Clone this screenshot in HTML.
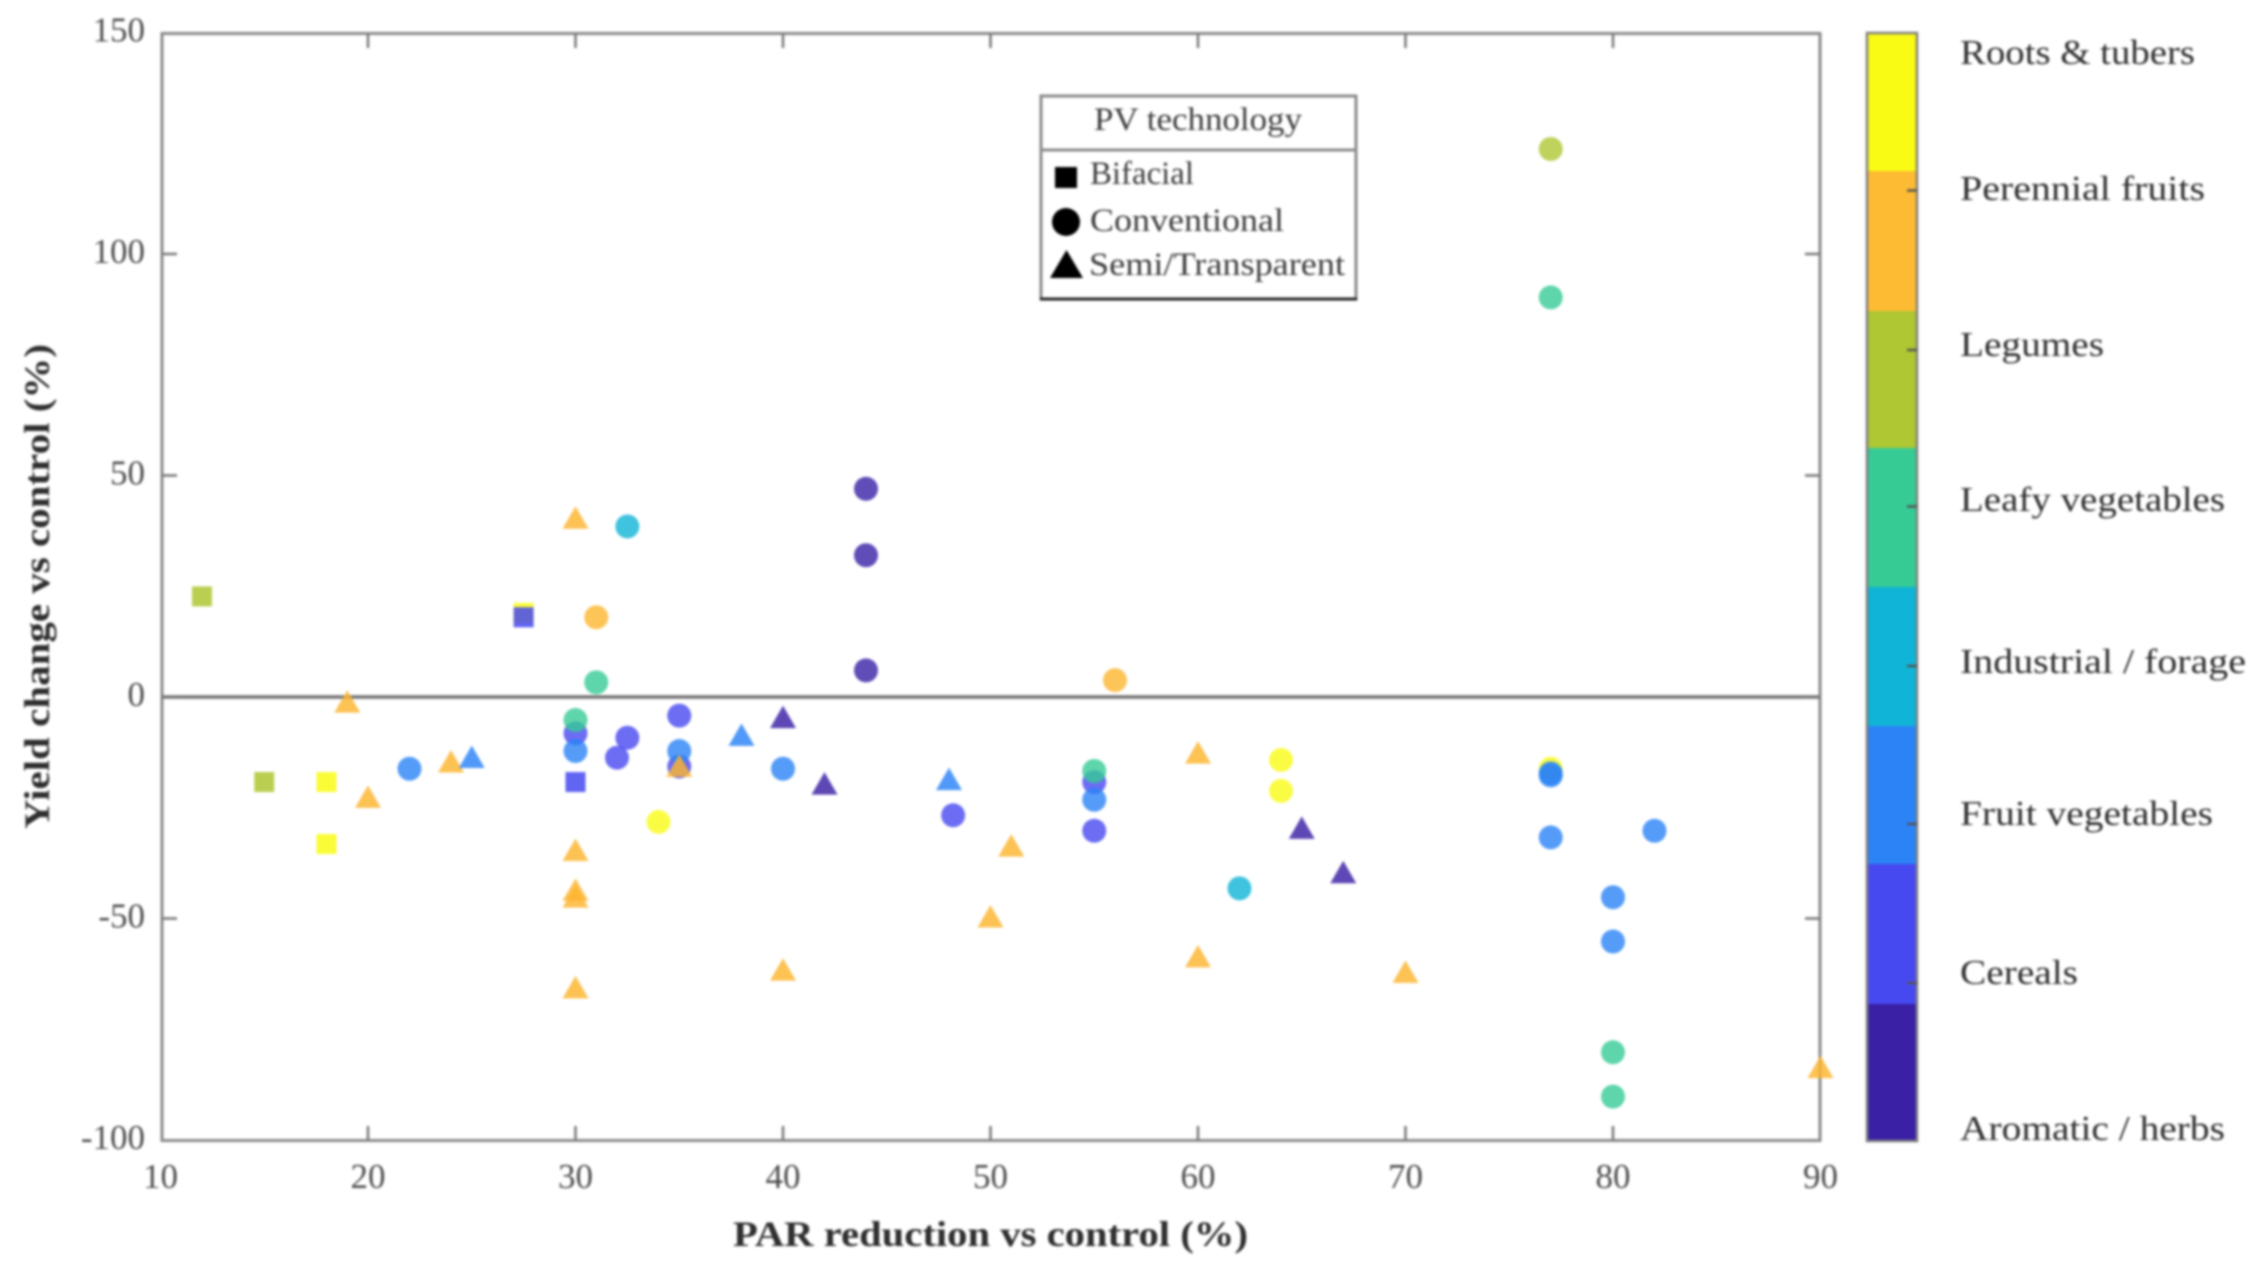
<!DOCTYPE html>
<html lang="en">
<head>
<meta charset="utf-8">
<title>Yield change vs PAR reduction by PV technology</title>
<style>
  html, body { margin: 0; padding: 0; background: #fff; width: 2261px; height: 1266px; overflow: hidden; }
  svg { display: block; filter: blur(1.2px); }
  text { font-family: "Liberation Serif", serif; }
  .tick { font-size: 35px; fill: #4d4d4d; }
  .title { font-size: 36px; font-weight: bold; fill: #2e2e2e; }
  .cb { font-size: 35px; fill: #2e2e2e; }
  .lg { font-size: 33px; fill: #3c3c3c; }
</style>
</head>
<body>
<svg id="chart" xmlns="http://www.w3.org/2000/svg" width="2261" height="1266" viewBox="0 0 2261 1266">
  <rect x="0" y="0" width="2261" height="1266" fill="#fff"/>
  <g id="axes"></g>
  <g id="marks"></g>

  <text class="title" x="733" y="1246" textLength="515" lengthAdjust="spacingAndGlyphs">PAR reduction vs control (%)</text>
  <text class="title" transform="translate(49,829) rotate(-90)" textLength="485" lengthAdjust="spacingAndGlyphs">Yield change vs control (%)</text>

  <g>
    <rect x="1041" y="96" width="315" height="203" fill="#fff" stroke="#8a8a8a" stroke-width="3"/>
    <line x1="1041" y1="150" x2="1356" y2="150" stroke="#8a8a8a" stroke-width="3"/>
    <line x1="1040" y1="299" x2="1357" y2="299" stroke="#222" stroke-width="3"/>
    <text class="lg" x="1094" y="130" textLength="208" lengthAdjust="spacingAndGlyphs">PV technology</text>
    <rect x="1055" y="167" width="22" height="21" fill="#000"/>
    <text class="lg" x="1090" y="184" textLength="104" lengthAdjust="spacingAndGlyphs">Bifacial</text>
    <ellipse cx="1066" cy="222" rx="14" ry="14" fill="#000"/>
    <text class="lg" x="1090" y="231" textLength="194" lengthAdjust="spacingAndGlyphs">Conventional</text>
    <polygon points="1066.5,250 1083,278 1050,278" fill="#000"/>
    <text class="lg" x="1089" y="275" textLength="256" lengthAdjust="spacingAndGlyphs">Semi/Transparent</text>
  </g>

  <g>
    <rect x="1868" y="33" width="49" height="138" fill="#f9fb15"/>
    <rect x="1868" y="171" width="49" height="140" fill="#fdbb33"/>
    <rect x="1868" y="311" width="49" height="137" fill="#aec733"/>
    <rect x="1868" y="448" width="49" height="139" fill="#36cb95"/>
    <rect x="1868" y="587" width="49" height="139" fill="#10b4d6"/>
    <rect x="1868" y="726" width="49" height="138" fill="#2b83f6"/>
    <rect x="1868" y="864" width="49" height="140" fill="#4749f0"/>
    <rect x="1868" y="1004" width="49" height="137" fill="#3a20a5"/>
    <rect x="1867" y="33" width="50" height="1108" fill="none" stroke="#7f7f7f" stroke-width="2.5"/>
    <g stroke="#555" stroke-width="2.5">
      <line x1="1907" x2="1917" y1="190.5" y2="190.5"/>
      <line x1="1907" x2="1917" y1="350" y2="350"/>
      <line x1="1907" x2="1917" y1="506.5" y2="506.5"/>
      <line x1="1907" x2="1917" y1="666" y2="666"/>
      <line x1="1907" x2="1917" y1="824" y2="824"/>
      <line x1="1907" x2="1917" y1="983" y2="983"/>
    </g>
    <text class="cb" x="1960" y="64" textLength="235" lengthAdjust="spacingAndGlyphs">Roots &amp; tubers</text>
    <text class="cb" x="1960" y="200" textLength="245" lengthAdjust="spacingAndGlyphs">Perennial fruits</text>
    <text class="cb" x="1960" y="356" textLength="144" lengthAdjust="spacingAndGlyphs">Legumes</text>
    <text class="cb" x="1960" y="511" textLength="265" lengthAdjust="spacingAndGlyphs">Leafy vegetables</text>
    <text class="cb" x="1960" y="673" textLength="286" lengthAdjust="spacingAndGlyphs">Industrial / forage</text>
    <text class="cb" x="1960" y="825" textLength="253" lengthAdjust="spacingAndGlyphs">Fruit vegetables</text>
    <text class="cb" x="1960" y="984" textLength="118" lengthAdjust="spacingAndGlyphs">Cereals</text>
    <text class="cb" x="1960" y="1140" textLength="265" lengthAdjust="spacingAndGlyphs">Aromatic / herbs</text>
  </g>
</svg>
<script>
// Axis tick values
const xTicks = [10, 20, 30, 40, 50, 60, 70, 80, 90];
const yTicks = [-100, -50, 0, 50, 100, 150];

// Crop categories and their colours
const crops = ["roots", "perennial", "legumes", "leafy", "industrial", "fruitveg", "cereals", "aromatic"];
const cropColors = ["#f9fb15", "#fdb52e", "#aec733", "#36cb95", "#10b4d6", "#2b83f6", "#4749f0", "#3a20a5"];

// Bifacial series
const bifacialPar = [12, 15, 18, 18, 27.5, 27.5, 30];
const bifacialYield = [22.7, -19.2, -19.2, -33.2, 19, 18, -19.2];
const bifacialCrop = ["legumes", "legumes", "roots", "roots", "roots", "cereals", "cereals"];

// Conventional series
const conventionalPar = [77, 77, 44, 44, 44, 32.5, 31, 31, 56, 30, 30, 30, 32.5, 32, 35, 35, 35, 22, 40, 34, 48.2, 55, 55, 55, 55, 64, 64, 62, 77, 77, 77, 77, 82, 80, 80, 80, 80];
const conventionalYield = [123.7, 90.2, 47, 32, 6, 38.5, 18, 3.3, 3.8, -8.2, -12.2, -5.2, -9.2, -13.7, -4.2, -15.7, -12.2, -16.2, -16.2, -28.2, -26.7, -19.2, -23.2, -30.2, -16.7, -14.2, -21.2, -43.2, -16.2, -17.2, -17.7, -31.7, -30.2, -45.2, -55.2, -80.2, -90.2];
const conventionalCrop = ["legumes", "leafy", "aromatic", "aromatic", "aromatic", "industrial", "perennial", "leafy", "perennial", "cereals", "fruitveg", "leafy", "cereals", "cereals", "cereals", "cereals", "fruitveg", "fruitveg", "fruitveg", "roots", "cereals", "cereals", "fruitveg", "cereals", "leafy", "roots", "roots", "industrial", "roots", "fruitveg", "fruitveg", "fruitveg", "fruitveg", "fruitveg", "fruitveg", "leafy", "leafy"];

// Semi/transparent series
const semiPar = [30, 19, 24, 25, 20, 30, 30, 30, 30, 35, 38, 40, 42, 48, 40, 50, 51, 60, 60, 65, 67, 70, 90];
const semiYield = [40, -1.5, -15, -14, -23, -35, -44, -45.5, -66, -16, -9, -5, -20, -19, -62, -50, -34, -13, -59, -30, -40, -62.5, -84];
const semiCrop = ["perennial", "perennial", "perennial", "fruitveg", "perennial", "perennial", "perennial", "perennial", "perennial", "perennial", "fruitveg", "aromatic", "aromatic", "fruitveg", "perennial", "perennial", "perennial", "perennial", "perennial", "aromatic", "aromatic", "perennial", "perennial"];

const NS = "http://www.w3.org/2000/svg";
const axesG = document.getElementById("axes");
const marksG = document.getElementById("marks");

function xScale(v) { return 160.5 + (v - 10) * 20.75; }
function yScale(v) { return 697 - v * 4.43; }

function make(tag, attrs, parent) {
  const el = document.createElementNS(NS, tag);
  for (const k in attrs) el.setAttribute(k, attrs[k]);
  parent.appendChild(el);
  return el;
}

const axisColor = "#8a8a8a";
const tickColor = "#777";

// Plot frame
const frame = make("rect", { x: 162, y: 33.5, width: 1658, height: 1107, fill: "none", stroke: axisColor, "stroke-width": 3 }, axesG);



// Zero reference line
const zero = make("line", { x1: 162, x2: 1820, y1: yScale(0), y2: yScale(0), stroke: "#747474", "stroke-width": 3.5 }, axesG);



// X ticks and labels
xTicks.forEach(function (t) {
  const px = xScale(t);
  if (t > 10 && t < 90) {
    const bottomTick = make("line", { x1: px, x2: px, y1: 1126, y2: 1140, stroke: tickColor, "stroke-width": 2.5 }, axesG);
    
    
    const topTick = make("line", { x1: px, x2: px, y1: 34, y2: 48, stroke: tickColor, "stroke-width": 2.5 }, axesG);
    
    
  }
  const label = make("text", { x: px, y: 1188, "text-anchor": "middle", class: "tick" }, axesG);
  
  
  label.textContent = String(t);
});

// Y ticks and labels
yTicks.forEach(function (t) {
  const py = yScale(t);
  if (t > -100 && t < 150) {
    const leftTick = make("line", { x1: 162, x2: 177, y1: py, y2: py, stroke: tickColor, "stroke-width": 2.5 }, axesG);
    
    
    const rightTick = make("line", { x1: 1805, x2: 1820, y1: py, y2: py, stroke: tickColor, "stroke-width": 2.5 }, axesG);
    
    
  }
  const label = make("text", { x: 145, y: py + 9, "text-anchor": "end", class: "tick" }, axesG);
  
  
  label.textContent = String(t);
});

function colorOf(crop) { return cropColors[crops.indexOf(crop)]; }

// Bifacial squares
bifacialPar.forEach(function (v, i) {
  const s = make("rect", { x: xScale(v) - 10, y: yScale(bifacialYield[i]) - 10, width: 20, height: 20, fill: colorOf(bifacialCrop[i]), "fill-opacity": 0.85 }, marksG);
  
  
});

// Conventional circles
conventionalPar.forEach(function (v, i) {
  const c = make("circle", { cx: xScale(v), cy: yScale(conventionalYield[i]), r: 12, fill: colorOf(conventionalCrop[i]), "fill-opacity": 0.8 }, marksG);
  
  
});

// Semi/transparent triangles
semiPar.forEach(function (v, i) {
  const px = xScale(v), py = yScale(semiYield[i]);
  const t = make("polygon", { points: px + "," + (py - 13.5) + " " + (px + 13) + "," + (py + 9) + " " + (px - 13) + "," + (py + 9), fill: colorOf(semiCrop[i]), "fill-opacity": 0.82 }, marksG);
  
  
});
</script>
</body>
</html>
